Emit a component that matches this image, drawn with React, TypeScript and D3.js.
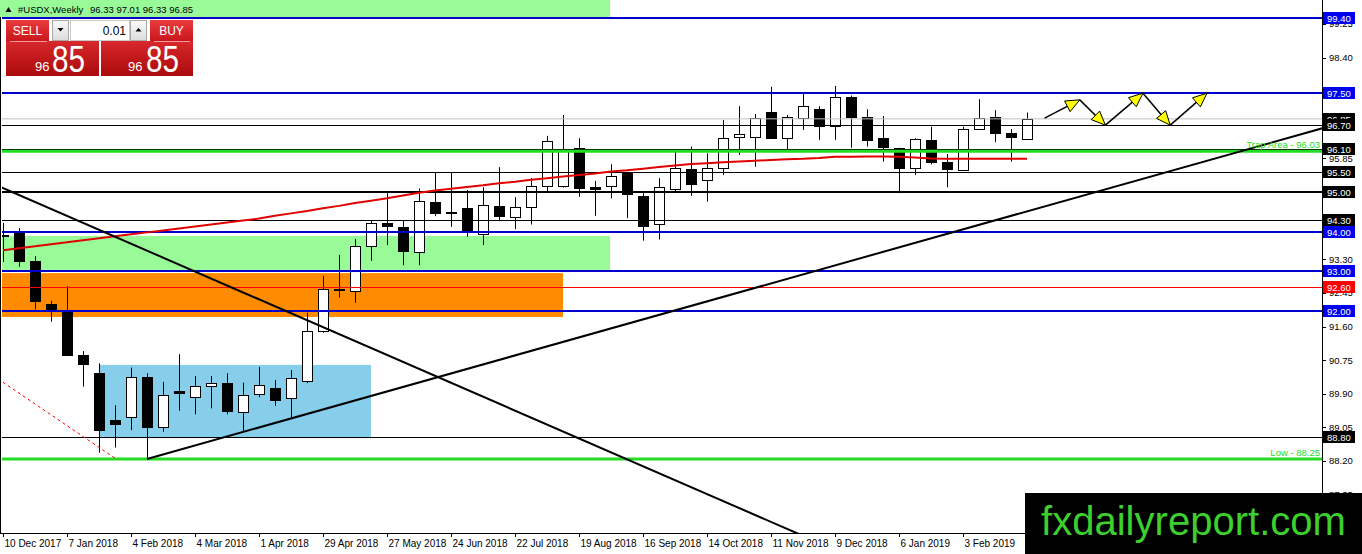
import React from 'react';
import * as d3 from 'd3';

// ---------- DATA ----------
const opens = [93.92, 93.97, 93.26, 92.17, 91.99, 90.88, 90.42, 89.24, 89.32, 90.33, 89.07, 89.97, 89.81, 90.09, 90.16, 89.45, 89.89, 90.04, 89.79, 90.22, 91.49, 92.54, 92.50, 93.64, 94.21, 94.11, 93.49, 94.75, 94.50, 94.59, 93.93, 94.64, 94.38, 94.63, 95.16, 95.15, 96.11, 95.13, 95.16, 95.47, 94.90, 94.18, 95.07, 95.57, 95.30, 95.61, 96.38, 96.38, 97.02, 96.37, 96.88, 97.09, 96.68, 97.41, 96.89, 96.36, 96.11, 95.60, 96.31, 95.75, 95.56, 96.59, 96.89, 96.48, 96.33];
const highs = [94.22, 94.09, 93.38, 92.25, 92.62, 90.98, 90.67, 89.61, 90.56, 90.42, 90.20, 90.90, 90.35, 90.35, 90.42, 90.18, 90.58, 90.25, 90.50, 91.95, 92.88, 93.41, 93.81, 94.27, 94.97, 94.29, 95.09, 95.50, 95.50, 95.05, 95.12, 95.63, 94.87, 95.35, 96.42, 96.95, 96.36, 95.28, 95.70, 95.51, 94.97, 95.35, 96.08, 96.15, 95.98, 96.82, 97.17, 96.97, 97.66, 96.95, 97.48, 97.17, 97.68, 97.44, 97.09, 96.92, 96.12, 96.36, 96.65, 95.96, 96.65, 97.35, 97.07, 96.59, 97.01];
const lows = [93.23, 93.11, 92.03, 91.72, 90.86, 90.08, 88.41, 88.54, 88.98, 88.25, 88.94, 89.47, 89.38, 89.53, 89.38, 88.94, 89.81, 89.59, 89.29, 90.17, 91.44, 92.33, 92.20, 93.26, 93.66, 93.15, 93.15, 94.39, 94.12, 93.87, 93.66, 94.27, 94.06, 94.18, 95.01, 95.11, 94.88, 94.40, 94.84, 94.34, 93.77, 93.80, 95.01, 94.90, 94.76, 95.43, 95.94, 95.64, 96.36, 96.06, 96.57, 96.32, 96.32, 96.12, 96.15, 95.77, 94.97, 95.43, 95.70, 95.12, 95.56, 96.59, 96.26, 95.77, 96.33];
const closes = [93.90, 93.26, 92.25, 92.02, 90.88, 90.65, 88.98, 89.13, 90.32, 89.07, 89.87, 89.93, 90.10, 90.16, 89.47, 89.86, 90.12, 89.74, 90.30, 91.49, 92.54, 92.56, 93.64, 94.21, 94.15, 93.52, 94.77, 94.48, 94.46, 94.02, 94.66, 94.40, 94.63, 95.16, 96.29, 96.08, 95.11, 95.07, 95.40, 94.94, 94.15, 95.13, 95.60, 95.21, 95.62, 96.36, 96.46, 96.86, 96.37, 96.89, 97.17, 96.67, 97.40, 96.90, 96.32, 96.15, 95.61, 96.34, 95.77, 95.57, 96.59, 96.86, 96.48, 96.40, 96.85];
const maValues = [93.53, 93.58, 93.63, 93.68, 93.73, 93.78, 93.83, 93.88, 93.93, 93.98, 94.03, 94.08, 94.13, 94.18, 94.23, 94.28, 94.33, 94.40, 94.46, 94.52, 94.59, 94.65, 94.72, 94.78, 94.84, 94.91, 94.98, 95.04, 95.08, 95.13, 95.17, 95.22, 95.26, 95.31, 95.35, 95.39, 95.43, 95.47, 95.52, 95.55, 95.59, 95.63, 95.67, 95.71, 95.73, 95.75, 95.77, 95.79, 95.81, 95.83, 95.84, 95.86, 95.89, 95.89, 95.90, 95.90, 95.89, 95.87, 95.85, 95.84, 95.84, 95.84, 95.84, 95.84, 95.84];

const weekTickLabels = ["10 Dec 2017", "7 Jan 2018", "4 Feb 2018", "4 Mar 2018", "1 Apr 2018", "29 Apr 2018", "27 May 2018", "24 Jun 2018", "22 Jul 2018", "19 Aug 2018", "16 Sep 2018", "14 Oct 2018", "11 Nov 2018", "9 Dec 2018", "6 Jan 2019", "3 Feb 2019", "3 Mar 2019"];
const priceTicks = [99.25, 98.40, 97.55, 96.70, 95.85, 95.00, 94.15, 93.30, 92.45, 91.60, 90.75, 89.90, 89.05, 88.20, 87.35];
// tick labels that the reference shows (the rest sit under level labels)
const shownTickLabels = [99.25, 98.40, 95.85, 93.30, 92.45, 91.60, 90.75, 89.90, 89.05, 88.20, 87.35];

const blueLevels = [99.40, 97.50, 94.00, 93.00, 92.00];
const blackLevels = [96.70, 96.10, 95.50, 94.30, 88.80];
const thickBlackLevels = [95.00];
const redLevels = [92.60];
const bidPrice = 96.85;
const trapLevel = 96.03;
const lowLevel = 88.25;

// zones: [startIdx, endIdx, topPrice, bottomPrice]
const greenZone = [-2, 37.94, 93.89, 93.03];
const orangeZone = [-2, 35, 92.95, 91.84];
const blueZone = [6.06, 23, 90.63, 88.78];

// trend lines: [idx, price] anchors
const downTrend = [[0, 95.10], [48, 86.66]];
const upTrend = [[9, 88.25], [81.69, 96.525]];
const redDashed = [[0, 90.19], [7, 88.27]];
const zigIdx = [65.1, 67.3, 68.9, 71.25, 72.95, 75.25];
const zigPrice = [96.87, 97.33, 96.69, 97.50, 96.69, 97.50];

// ---------- LAYOUT ----------
const W = 1362, H = 554;
const PL = 2, PR = 1322, PT = 0, PB = 533;
const x = d3.scaleLinear().domain([0, 1]).range([3, 19]);
const y = d3.scaleLinear().domain([88.25, 99.40]).range([459, 18]);
const FONT = "'Liberation Sans', Arial, sans-serif";
const BLUE_LINE = '#0000cd';
const BLUE_LBL = '#0000f0';
const GREEN = '#22dd22';

function extend(a: number[], b: number[], i0: number, i1: number) {
  const s = (b[1] - a[1]) / (b[0] - a[0]);
  return [[i0, a[1] + s * (i0 - a[0])], [i1, a[1] + s * (i1 - a[0])]];
}

function Arrowhead({ x1, y1, x2, y2 }: { x1: number; y1: number; x2: number; y2: number }) {
  const ang = Math.atan2(y2 - y1, x2 - x1);
  const L = 14, Wd = 6;
  const bx = x2 - L * Math.cos(ang), by = y2 - L * Math.sin(ang);
  const px = -Math.sin(ang) * Wd, py = Math.cos(ang) * Wd;
  const pts = `${x2},${y2} ${bx + px},${by + py} ${bx - px},${by - py}`;
  return <polygon points={pts} fill="#ffff00" stroke="#000" strokeWidth={1} strokeLinejoin="miter" />;
}

export default function App() {
  const lineGen = d3.line<number>().x((_, i) => x(i)).y((v) => y(v));
  const maPath = lineGen(maValues) || '';
  const dt = extend(downTrend[0], downTrend[1], -2, 60);
  const ut = extend(upTrend[0], upTrend[1], 9, 90);
  const zigPts = zigIdx.map((v, i) => [x(v), y(zigPrice[i])]);

  const hline = (p: number, color: string, w: number, key: string) => (
    <line key={key} x1={PL} x2={PR} y1={Math.round(y(p)) + (w % 2 ? 0.5 : 0)} y2={Math.round(y(p)) + (w % 2 ? 0.5 : 0)} stroke={color} strokeWidth={w} />
  );

  const zoneRect = (z: number[], fill: string) => (
    <rect x={x(z[0])} y={y(z[2])} width={x(z[1]) - x(z[0])} height={y(z[3]) - y(z[2])} fill={fill} />
  );

  const levelLabels: [number, string][] = [
    [99.40, BLUE_LBL], [97.50, BLUE_LBL], [bidPrice, '#000'], [96.70, '#000'], [96.10, '#000'],
    [95.50, '#000'], [95.00, '#000'], [94.30, '#000'], [94.00, BLUE_LBL], [93.00, BLUE_LBL],
    [92.60, '#ff0000'], [92.00, BLUE_LBL], [88.80, '#000'],
  ];

  return (
    <div style={{ width: W, height: H }}>
      <style>{`body{margin:0;padding:0;}`}</style>
      <svg width={W} height={H} viewBox={`0 0 ${W} ${H}`} style={{ display: 'block', background: '#fff' }}>
        <defs>
          <clipPath id="plot"><rect x={PL} y={PT} width={PR - PL} height={PB - PT} /></clipPath>
          <linearGradient id="btnRed" x1="0" y1="0" x2="0" y2="1">
            <stop offset="0" stopColor="#ea3c3e" />
            <stop offset="1" stopColor="#c9161c" />
          </linearGradient>
          <linearGradient id="bigRed" x1="0" y1="0" x2="0" y2="1">
            <stop offset="0" stopColor="#d8282b" />
            <stop offset="1" stopColor="#aa0a0c" />
          </linearGradient>
          <linearGradient id="btnGray" x1="0" y1="0" x2="0" y2="1">
            <stop offset="0" stopColor="#fafafa" />
            <stop offset="1" stopColor="#dcdcdc" />
          </linearGradient>
        </defs>

        <rect x={0} y={0} width={W} height={H} fill="#fff" />

        {/* header bar */}
        <rect x={0} y={0} width={x(greenZone[1])} height={17} fill="#98fb98" />

        <g clipPath="url(#plot)">
          {zoneRect(greenZone, '#98fb98')}
          {zoneRect(orangeZone, '#ff8c00')}
          {zoneRect(blueZone, '#87ceeb')}

          {/* candles */}
          {opens.map((o, i) => {
            const c = closes[i];
            const cx = Math.round(x(i)) + 0.5;
            const top = Math.round(y(Math.max(o, c))) + 0.5;
            const bot = Math.round(y(Math.min(o, c))) + 0.5;
            const bull = c > o;
            return (
              <g key={i}>
                <line x1={cx} x2={cx} y1={y(highs[i])} y2={y(lows[i])} stroke="#000" strokeWidth={1} />
                <rect x={cx - 5} y={top} width={10} height={Math.max(bot - top, 1)} fill={bull ? '#fff' : '#000'} stroke="#000" strokeWidth={1} />
              </g>
            );
          })}

          {/* level lines */}
          <line x1={PL} x2={PR} y1={y(bidPrice)} y2={y(bidPrice)} stroke="#c0c0c0" strokeWidth={1} />
          {blackLevels.map((p, i) => hline(p, '#000', 1, 'bk' + i))}
          {thickBlackLevels.map((p, i) => hline(p, '#000', 2, 'tb' + i))}
          {redLevels.map((p, i) => hline(p, '#ff0000', 1, 'rd' + i))}
          {blueLevels.map((p, i) => hline(p, BLUE_LINE, 2, 'bl' + i))}
          <line x1={PL} x2={PR} y1={y(trapLevel)} y2={y(trapLevel)} stroke={GREEN} strokeWidth={3} />
          <line x1={PL} x2={PR} y1={y(lowLevel)} y2={y(lowLevel)} stroke={GREEN} strokeWidth={3} />

          {/* moving average */}
          <path d={maPath} fill="none" stroke="#e00000" strokeWidth={2} />

          {/* trend lines */}
          <line x1={x(dt[0][0])} y1={y(dt[0][1])} x2={x(dt[1][0])} y2={y(dt[1][1])} stroke="#000" strokeWidth={2} />
          <line x1={x(ut[0][0])} y1={y(ut[0][1])} x2={x(ut[1][0])} y2={y(ut[1][1])} stroke="#000" strokeWidth={2} />
          <line x1={x(redDashed[0][0])} y1={y(redDashed[0][1])} x2={x(redDashed[1][0])} y2={y(redDashed[1][1])} stroke="#ff0000" strokeWidth={1} strokeDasharray="3,3" />

          {/* forecast zigzag */}
          {zigPts.slice(1).map((p, i) => (
            <line key={'z' + i} x1={zigPts[i][0]} y1={zigPts[i][1]} x2={p[0]} y2={p[1]} stroke="#000" strokeWidth={1.5} />
          ))}
          {zigPts.slice(1).map((p, i) => (
            <Arrowhead key={'a' + i} x1={zigPts[i][0]} y1={zigPts[i][1]} x2={p[0]} y2={p[1]} />
          ))}

          {/* object texts */}
          <text x={1320} y={y(trapLevel) - 3} textAnchor="end" fontFamily={FONT} fontSize={9.5} fill={GREEN}>Trap Area - 96.03</text>
          <text x={1320} y={y(lowLevel) - 3} textAnchor="end" fontFamily={FONT} fontSize={9.5} fill={GREEN}>Low - 88.25</text>
        </g>

        {/* frame & axes */}
        <line x1={0.5} x2={0.5} y1={17} y2={PB} stroke="#000" strokeWidth={1} />
        <line x1={PR + 0.5} x2={PR + 0.5} y1={0} y2={PB + 1} stroke="#000" strokeWidth={1} />
        <line x1={0} x2={PR + 1} y1={PB + 0.5} y2={PB + 0.5} stroke="#000" strokeWidth={1} />

        {weekTickLabels.map((lbl, k) => {
          const tx = Math.round(x(k * 4)) + 0.5;
          return (
            <g key={'t' + k}>
              <line x1={tx} x2={tx} y1={PB} y2={PB + 4} stroke="#000" />
              <text x={tx + 1} y={547} fontFamily={FONT} fontSize={10} fill="#000">{lbl}</text>
            </g>
          );
        })}

        {priceTicks.map((p, k) => (
          <g key={'p' + k}>
            <line x1={PR} x2={PR + 4} y1={Math.round(y(p)) + 0.5} y2={Math.round(y(p)) + 0.5} stroke="#000" />
            {shownTickLabels.includes(p) && (
              <text x={1329} y={y(p) + 3.5} fontFamily={FONT} fontSize={9.5} fill="#000">{p.toFixed(2)}</text>
            )}
          </g>
        ))}

        {levelLabels.map(([p, col], k) => (
          <g key={'l' + k}>
            <rect x={1323} y={Math.round(y(p)) - 6} width={32} height={12} fill={col} />
            <text x={1327} y={Math.round(y(p)) + 3.5} fontFamily={FONT} fontSize={9.5} fill="#fff">{p.toFixed(2)}</text>
          </g>
        ))}

        {/* header text */}
        <polygon points="5.5,12 11.5,12 8.5,7" fill="#000" />
        <text x={18} y={13} fontFamily={FONT} fontSize={9.5} fill="#000">#USDX,Weekly</text>
        <text x={90} y={13} fontFamily={FONT} fontSize={9.5} fill="#000">96.33 97.01 96.33 96.85</text>

        {/* one-click trading panel */}
        <g>
          <rect x={6} y={20} width={43} height={21} fill="url(#btnRed)" />
          <text x={27.5} y={35} textAnchor="middle" fontFamily={FONT} fontSize={12} fill="#fff">SELL</text>
          <rect x={52.5} y={20.5} width={16} height={20} fill="url(#btnGray)" stroke="#a8a8a8" />
          <polygon points="57.5,28 63.5,28 60.5,31.5" fill="#000" />
          <rect x={70.5} y={20.5} width={59} height={20} fill="#fff" stroke="#c8c8c8" />
          <text x={126} y={35} textAnchor="end" fontFamily={FONT} fontSize={12} fill="#000">0.01</text>
          <rect x={130.5} y={20.5} width={16} height={20} fill="url(#btnGray)" stroke="#a8a8a8" />
          <polygon points="135.5,31.5 141.5,31.5 138.5,28" fill="#000" />
          <rect x={150} y={20} width={43} height={21} fill="url(#btnRed)" />
          <text x={171.5} y={35} textAnchor="middle" fontFamily={FONT} fontSize={12} fill="#fff">BUY</text>

          <rect x={6} y={41} width={93} height={35} fill="url(#bigRed)" />
          <rect x={101} y={41} width={92} height={35} fill="url(#bigRed)" />
          <line x1={10} x2={47} y1={41.5} y2={41.5} stroke="#f29a9a" />
          <line x1={154} x2={190} y1={41.5} y2={41.5} stroke="#f29a9a" />
          <text x={35} y={71} fontFamily={FONT} fontSize={13} fill="#fff">96</text>
          <text x={52} y={71.5} fontFamily={FONT} fontSize={37} fill="#fff" textLength={33} lengthAdjust="spacingAndGlyphs">85</text>
          <text x={128} y={71} fontFamily={FONT} fontSize={13} fill="#fff">96</text>
          <text x={146} y={71.5} fontFamily={FONT} fontSize={37} fill="#fff" textLength={33} lengthAdjust="spacingAndGlyphs">85</text>
        </g>

        {/* watermark */}
        <rect x={1025} y={493} width={W - 1025} height={H - 493} fill="#000" />
        <text x={1041} y={535} fontFamily={FONT} fontSize={40} fill="#3ccf2e" textLength={305} lengthAdjust="spacingAndGlyphs">fxdailyreport.com</text>
      </svg>
    </div>
  );
}
